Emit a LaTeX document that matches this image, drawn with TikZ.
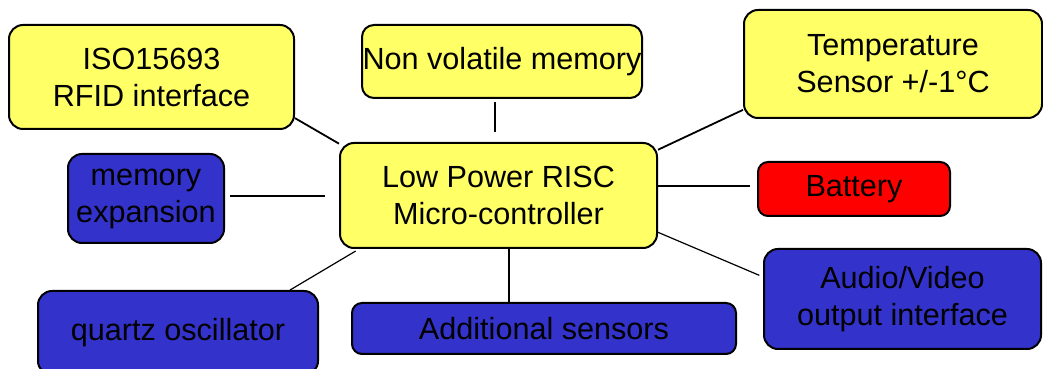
\documentclass[tikz,border=0pt]{standalone}
\usepackage{fontspec}
\setmainfont{Liberation Sans}
\usepackage{xcolor}
\usetikzlibrary{positioning, calc}

\definecolor{boxyellow}{HTML}{FFFF66}
\definecolor{boxblue}{HTML}{3333CC}
\definecolor{boxred}{HTML}{FF0000}

\tikzset{
  block/.style={draw, line width=2pt, rounded corners=14pt, align=center, inner sep=0pt,
    font=\fontsize{30.6}{37}\selectfont},
  link/.style={line width=1.8pt},
  thinlink/.style={line width=1.2pt}
}

\begin{document}
\begin{tikzpicture}[x=1pt, y=1pt]
\useasboundingbox (0,0) rectangle (1043,369);
\node[block, fill=boxyellow, minimum width=285pt, minimum height=104pt] (iso) at (151.5,292) {ISO15693\\RFID interface};
\node[block, fill=boxyellow, minimum width=280pt, minimum height=73pt, rounded corners=12pt] (nvmem) at (502,307.5) {Non volatile memory};
\node[block, fill=boxyellow, minimum width=298pt, minimum height=108pt] (temp) at (893,305) {Temperature\\Sensor +/-1°C};
\node[block, fill=boxblue, minimum width=156pt, minimum height=89pt] (memexp) at (146,170.5) {memory\\expansion};
\node[block, fill=boxyellow, minimum width=317pt, minimum height=105pt] (mcu) at (498.5,173.5) {Low Power RISC\\Micro-controller};
\node[block, fill=boxred, minimum width=192pt, minimum height=54pt, rounded corners=10pt] (battery) at (854,180) {Battery};
\node[block, fill=boxblue, minimum width=280pt, minimum height=84pt] (quartz) at (178,36) {quartz oscillator};
\node[block, fill=boxblue, minimum width=384pt, minimum height=51pt, rounded corners=10pt] (sensors) at (544,40.5) {Additional sensors};
\node[block, fill=boxblue, minimum width=277pt, minimum height=100pt] (av) at (902.5,70) {Audio/Video\\output interface};

\draw[link] (iso.-16) -- (mcu.162);
\draw[thinlink, shorten <=10pt, shorten >=3pt] ([xshift=-3.5pt]mcu.north) -- ([xshift=-3.5pt]mcu.north |- nvmem.south);
\draw[link] (mcu.16) -- (temp.197.5);
\draw[thinlink, shorten <=5pt, shorten >=14pt] ([yshift=2.5pt]memexp.east) -- ([yshift=2.5pt]memexp.east -| mcu.west);
\draw[thinlink, shorten >=7pt] ([yshift=3pt]battery.west -| mcu.east) -- ([yshift=3pt]battery.west);
\draw[thinlink, shorten >=4pt] (quartz.21) -- (mcu.201);
\draw[link] ([xshift=10.5pt]mcu.south) -- ([xshift=10.5pt]mcu.south |- sensors.north);
\draw[thinlink, shorten >=4pt] (mcu.-13) -- (av.171.3);
\end{tikzpicture}
\end{document}
